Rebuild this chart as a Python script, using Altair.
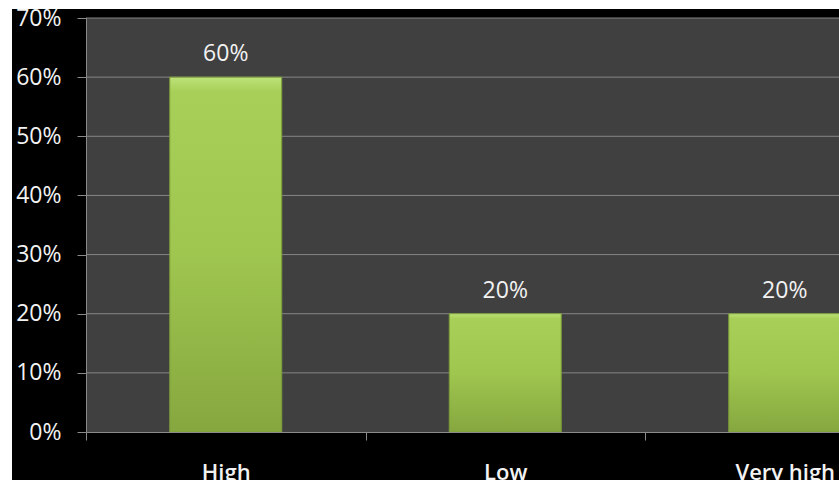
import altair as alt
import pandas as pd

categories = ["High", "Low", "Very high"]
shares = [0.60, 0.20, 0.20]
grid_values = [0.1, 0.2, 0.3, 0.4, 0.5, 0.6, 0.7]
y_ticks = [0, 0.1, 0.2, 0.3, 0.4, 0.5, 0.6, 0.7]

bars_df = pd.DataFrame({"category": categories, "share": shares})
grid_df = pd.DataFrame({"share": grid_values})
one_df = pd.DataFrame({"k": [0]})

W = 753
H = 414
FONT = "Open Sans"

x_scale = alt.Scale(domain=categories, range=[0, 838.5], paddingInner=0, paddingOuter=0)
y_scale = alt.Scale(domain=[0, 0.7], nice=False, zero=True)
y_axis = alt.Axis(values=y_ticks, format=".0%", labelFont=FONT, labelFontSize=23,
                  labelColor="#f2f2f2", labelPadding=16, tickSize=9,
                  tickColor="#8a8a8a", domainColor="#8a8a8a", grid=False,
                  zindex=1)

black_bg = alt.Chart(one_df).mark_rect(color="#000000").encode(
    x=alt.value(-74), x2=alt.value(W + 20), y=alt.value(-9), y2=alt.value(H + 60)
)
plot_bg = alt.Chart(one_df).mark_rect(color="#404040").encode(
    x=alt.value(0), x2=alt.value(W + 20), y=alt.value(0), y2=alt.value(H)
)
grid = alt.Chart(grid_df).mark_rule(color="#858585", strokeWidth=1).encode(
    y=alt.Y("share:Q", scale=y_scale, axis=y_axis, title=None),
    x=alt.value(0), x2=alt.value(W + 20),
)

gradient = {
    "gradient": "linear", "x1": 0, "y1": 0, "x2": 0, "y2": 1,
    "stops": [
        {"offset": 0, "color": "#bde27a"},
        {"offset": 0.04, "color": "#a8d058"},
        {"offset": 0.5, "color": "#9fc64f"},
        {"offset": 1, "color": "#86a73f"},
    ],
}

base = alt.Chart(bars_df).encode(
    x=alt.X("category:N", scale=x_scale, sort=categories, title=None,
            axis=alt.Axis(labelAngle=0, tickBand="extent", labelFont=FONT, labelFontSize=22,
                          labelFontWeight=600, labelColor="#f2f2f2", labelPadding=39,
                          labelBaseline="alphabetic", tickSize=8, tickColor="#8a8a8a",
                          domainColor="#8a8a8a", labelBound=False, labelOverlap=False,
                          grid=False, zindex=1)),
    y=alt.Y("share:Q", scale=y_scale, title=None, axis=y_axis),
)

bars = base.mark_bar(color=gradient, width=112, stroke="#7d9c3a", strokeWidth=1)
labels = base.mark_text(dy=-16, baseline="alphabetic", font=FONT, fontSize=23,
                        color="#f2f2f2").encode(text=alt.Text("share:Q", format=".0%"))

chart = alt.layer(black_bg, plot_bg, grid, bars, labels).properties(
    width=W, height=H,
    padding={"left": 86, "top": 18, "right": 0, "bottom": 48},
    background="#ffffff",
    autosize=alt.AutoSizeParams(type="none"),
).configure_view(stroke=None, fill=None)

chart.save("out.html", embed_options={"renderer": "svg", "actions": False})
